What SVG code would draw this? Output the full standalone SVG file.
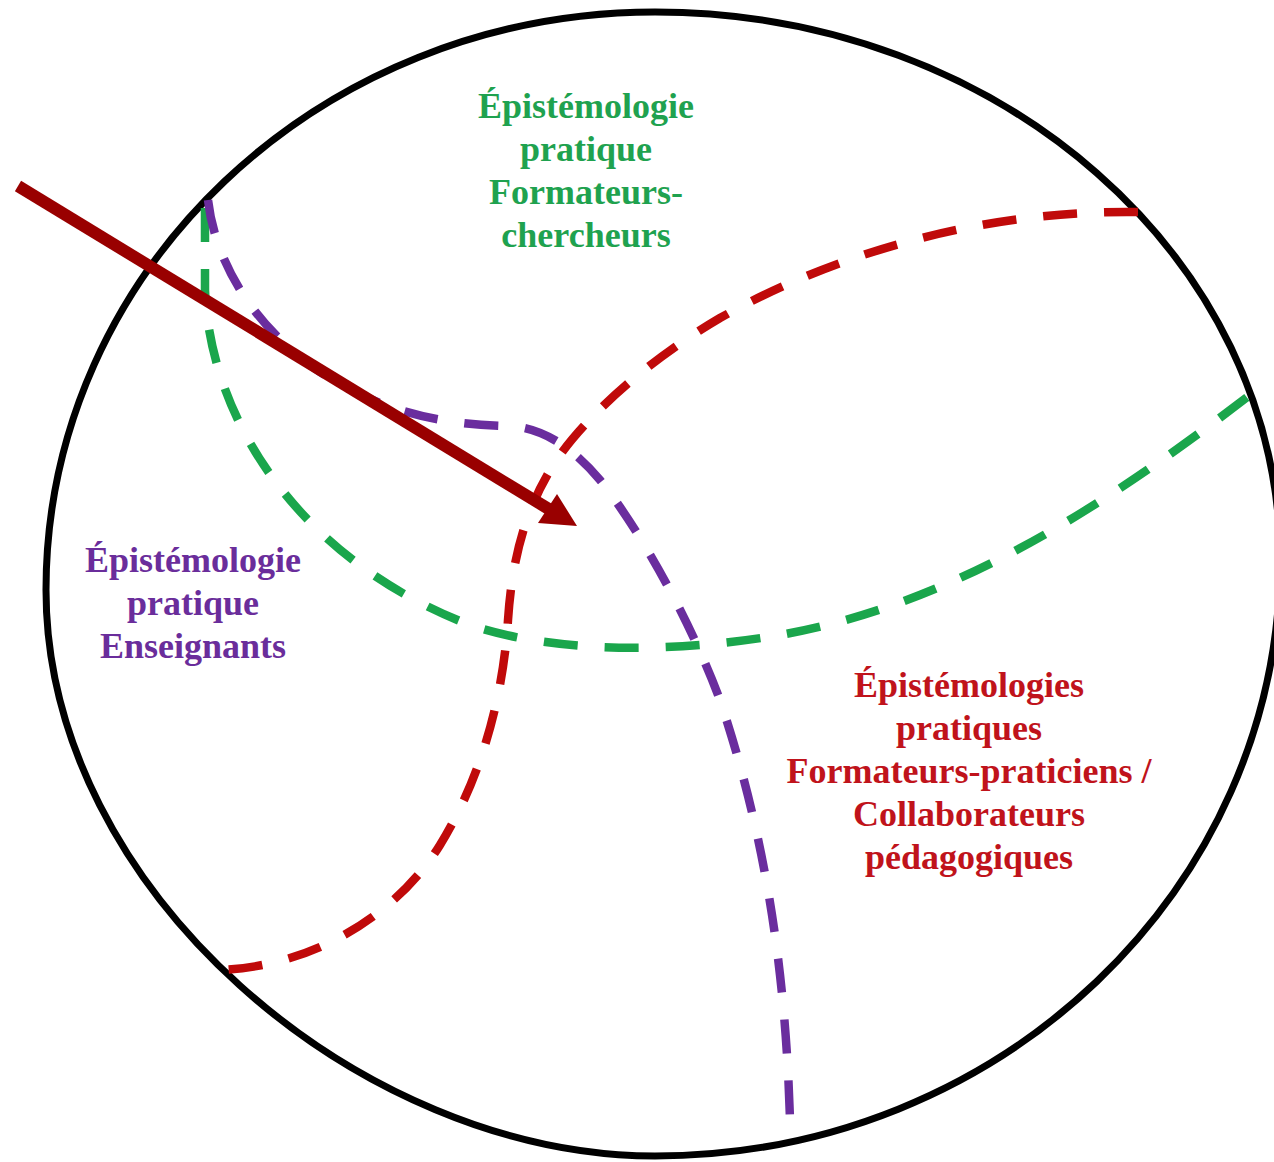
<svg xmlns="http://www.w3.org/2000/svg" width="1274" height="1162" viewBox="0 0 1274 1162">
  <style>
    .label { font-family: "Liberation Serif", "Times New Roman", serif; font-weight: bold; font-size: 36px; text-anchor: middle; }
    .boundary { fill: none; stroke: #000000; stroke-width: 7; }
    .zone { fill: none; stroke-width: 8.5; stroke-dasharray: 34 27; stroke-linecap: butt; }
    .green { stroke: #1aa64c; }
    .purple { stroke: #6a2d9e; }
    .red { stroke: #c00a0a; }
  </style>
  <rect width="1274" height="1162" fill="#ffffff"/>

  <!-- outer boundary -->
  <g id="boundary">
    <path class="boundary" d="M46,590 C46,271 319,12 655,12 C1000,12 1280,259 1280,560 C1280,889 1000,1156 655,1156 C360,1156 46,890 46,590 Z"/>
  </g>

  <!-- dashed zone borders and the arrow -->
  <g id="connectors">
    <path class="zone green" d="M205,208 L205,290 C210,420 300,560 470,625 C560,655 680,652 780,635 C950,605 1100,510 1250,395"/>
    <path class="zone purple" d="M208,200 C215,260 250,320 310,365 C380,415 450,425 510,426 C545,428 575,450 600,480 C640,530 690,620 720,700 C760,820 785,950 790,1120"/>
    <path class="zone red" d="M1138,212 C1000,210 850,245 720,318 C640,365 585,420 560,455 C525,505 512,560 508,620 C503,700 480,780 440,845 C400,910 320,965 222,970"/>
    <g id="arrow">
      <line x1="18" y1="186" x2="552" y2="511" stroke="#990000" stroke-width="12"/>
      <polygon points="557,494 577,526 538,523" fill="#990000"/>
    </g>
  </g>

  <g id="node-formateurs-chercheurs" class="label" fill="#1fa24f">
    <text x="586" y="118">Épistémologie</text>
    <text x="586" y="161">pratique</text>
    <text x="586" y="204">Formateurs-</text>
    <text x="586" y="247">chercheurs</text>
  </g>

  <g id="node-enseignants" class="label" fill="#6a2d9b">
    <text x="193" y="572">Épistémologie</text>
    <text x="193" y="615">pratique</text>
    <text x="193" y="658">Enseignants</text>
  </g>

  <g id="node-formateurs-praticiens" class="label" fill="#c0131b">
    <text x="969" y="697">Épistémologies</text>
    <text x="969" y="740">pratiques</text>
    <text x="969" y="783">Formateurs-praticiens /</text>
    <text x="969" y="826">Collaborateurs</text>
    <text x="969" y="869">pédagogiques</text>
  </g>
</svg>
